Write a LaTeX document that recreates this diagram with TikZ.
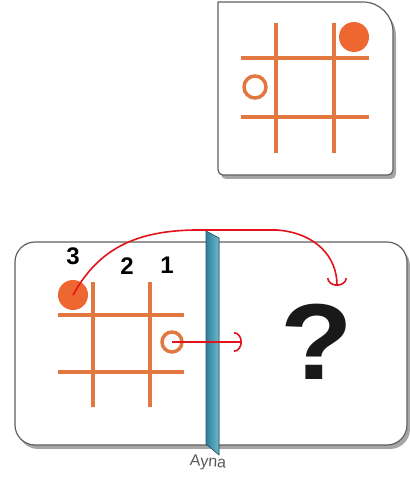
\documentclass[tikz,border=0pt]{standalone}
\usepackage{fontspec}
\setsansfont{Liberation Sans}
\usetikzlibrary{arrows.meta,shadows}
\definecolor{gridorange}{HTML}{E2773F}
\definecolor{markorange}{HTML}{EE6630}
\definecolor{inkred}{HTML}{E3131B}
\definecolor{mirrorblue}{HTML}{4AA7C0}
\definecolor{mirrordark}{HTML}{2F7F99}
\begin{document}
\begin{tikzpicture}[x=1pt,y=1pt,
  card/.style={draw=gray!75!black,line width=1.2pt,fill=white,
    drop shadow={shadow xshift=3pt,shadow yshift=-4pt,opacity=.35,fill=black}},
  gridline/.style={gridorange,line width=4.2pt},
  disc/.style={circle,fill=markorange,minimum size=30pt,inner sep=0pt},
  ring/.style={circle,draw=gridorange,line width=3.5pt,inner sep=0pt},
  num/.style={font=\sffamily\bfseries\fontsize{24}{24}\selectfont},
  ink/.style={inkred,line width=1.6pt,-{Arc Barb[length=8pt,width=20pt]}}]
\useasboundingbox (0,0) rectangle (409,481);

% target card
\draw[card] (218,479) -- (363,479) arc[start angle=90,end angle=0,radius=30]
  -- (393,311) arc[start angle=0,end angle=-90,radius=5]
  -- (223,306) arc[start angle=270,end angle=180,radius=5] -- cycle;
\foreach \x in {276,334} \draw[gridline] (\x,458) -- (\x,328);
\foreach \y in {423,364} \draw[gridline] (241,\y) -- (369,\y);
\node[disc] (tx) at (354,444) {};
\node[ring,minimum size=22pt] (to) at (255,394) {};

% mirror card
\draw[card,rounded corners=20] (15,36) rectangle (407,239);
\foreach \x in {93,150} \draw[gridline] (\x,199) -- (\x,74);
\foreach \y in {166,109} \draw[gridline] (58,\y) -- (184,\y);
\node[disc] (x3) at (73,186) {};
\node[ring,minimum size=20pt] (o1) at (172,139) {};
\node[num] (n3) at (73,225) {3};
\node[num] (n2) at (127,215) {2};
\node[num] (n1) at (167,216) {1};
\node[font=\sffamily\bfseries\fontsize{108}{108}\selectfont,xscale=1.1,text=black!90] (q) at (317,139) {?};

% mirror
\fill[left color=mirrordark,right color=mirrorblue!80!white]
  (206,250) -- (219,243) -- (219,26) -- (206,37) -- cycle;
\draw[mirrordark!70!black,line width=.6pt]
  (206,250) -- (219,243) -- (219,26) -- (206,37) -- cycle;
\node[font=\sffamily\fontsize{16}{16}\selectfont,text=gray!70!black,rotate=-4] (ayna) at (208,18) {Ayna};

% reflections
\coordinate (e1) at (242,139);
\coordinate (e3) at (337,195);
\draw[ink] (o1.center) -- (e1);
\draw[ink] (x3.center) .. controls (100,235) and (140,252) .. (205,251)
  -- (277,251) .. controls (315,248) and (337,225) .. (e3);
\end{tikzpicture}
\end{document}
